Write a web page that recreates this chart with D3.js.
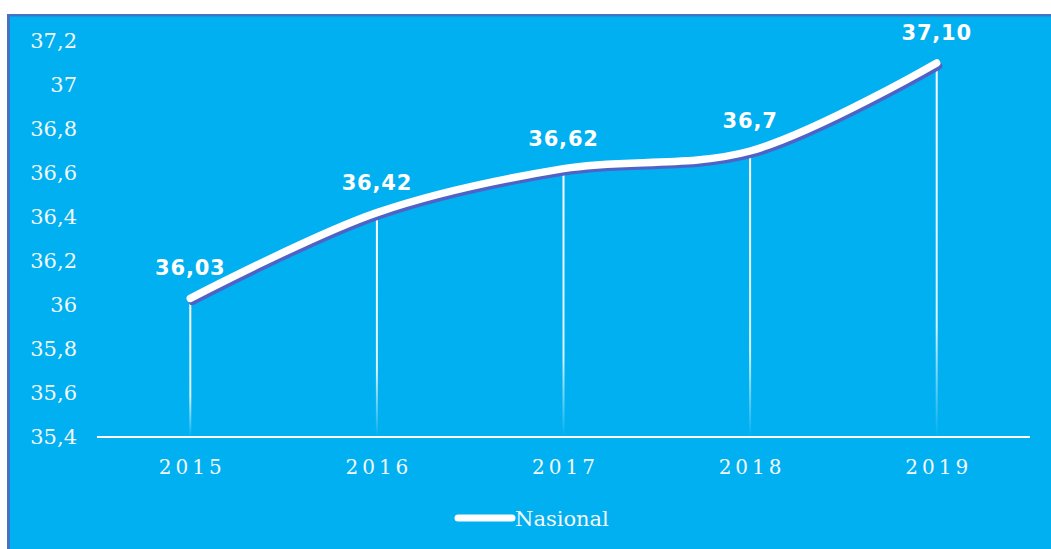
<!DOCTYPE html>
<html>
<head>
<meta charset="utf-8">
<script src="https://cdn.jsdelivr.net/npm/d3@7"></script>
<style>
  body { margin: 0; background: #fff; }
  .tick-y { font-family: "DejaVu Serif", serif; font-size: 21px; fill: #f2f8fc; }
  .tick-x { font-family: "DejaVu Serif", serif; font-size: 20px; fill: #f2f8fc; letter-spacing: 4px; }
  .val { font-family: "DejaVu Sans", sans-serif; font-weight: bold; font-size: 21px; fill: #fff; letter-spacing: 0.8px; }
  .legend { font-family: "DejaVu Serif", serif; font-size: 21px; fill: #f2f8fc; }
</style>
</head>
<body>
<div id="chart"></div>
<script>
const years = ["2015", "2016", "2017", "2018", "2019"];
const nasional = [36.03, 36.42, 36.62, 36.7, 37.10];
const valueLabels = ["36,03", "36,42", "36,62", "36,7", "37,10"];
const yTicks = [35.4, 35.6, 35.8, 36, 36.2, 36.4, 36.6, 36.8, 37, 37.2];

const width = 1051, height = 549;

const svg = d3.select("#chart").append("svg")
  .attr("width", width).attr("height", height);

// background panel
svg.append("rect").attr("x", 7).attr("y", 14).attr("width", width - 7).attr("height", height - 14)
  .attr("fill", "#00b0f0");
svg.append("rect").attr("x", 7).attr("y", 14).attr("width", width - 7).attr("height", 2.5)
  .attr("fill", "#4472c4");
svg.append("rect").attr("x", 7).attr("y", 14).attr("width", 3).attr("height", height - 14)
  .attr("fill", "#4472c4");

const x = d3.scaleBand().domain(years).range([97, 1030]);
const y = d3.scaleLinear().domain([35.4, 37.2]).range([437, 41]);
const cx = d => x(d) + x.bandwidth() / 2;

const defs = svg.append("defs");
const grad = defs.append("linearGradient").attr("id", "drop")
  .attr("x1", 0).attr("y1", 0).attr("x2", 0).attr("y2", 1);
grad.append("stop").attr("offset", "0%").attr("stop-color", "#fff").attr("stop-opacity", 1);
grad.append("stop").attr("offset", "70%").attr("stop-color", "#fff").attr("stop-opacity", 0.85);
grad.append("stop").attr("offset", "100%").attr("stop-color", "#fff").attr("stop-opacity", 0);

// y tick labels
svg.append("g").selectAll("text").data(yTicks).enter().append("text")
  .attr("class", "tick-y")
  .attr("x", 77).attr("y", d => y(d)).attr("dy", "0.35em")
  .attr("text-anchor", "end")
  .text(d => d3.format(".1f")(d).replace(/\.0$/, "").replace(".", ","));

// x axis
svg.append("line").attr("x1", 97).attr("x2", 1030).attr("y1", 437).attr("y2", 437)
  .attr("stroke", "#fff").attr("stroke-width", 2);
svg.append("g").selectAll("text").data(years).enter().append("text")
  .attr("class", "tick-x")
  .attr("x", d => cx(d) + 2).attr("y", 474)
  .attr("text-anchor", "middle")
  .text(d => d);

const pts = years.map((yr, i) => ({ year: yr, v: nasional[i], label: valueLabels[i] }));

// drop lines
svg.append("g").selectAll("rect").data(pts).enter().append("rect")
  .attr("x", d => cx(d.year) - 1)
  .attr("y", d => y(d.v))
  .attr("width", 2)
  .attr("height", d => 437 - y(d.v))
  .attr("fill", "url(#drop)");

const line = d3.line()
  .x(d => cx(d.year)).y(d => y(d.v))
  .curve(d3.curveCatmullRom.alpha(0.5));

// shadow
svg.append("path").datum(pts)
  .attr("d", line)
  .attr("transform", "translate(2,3)")
  .attr("fill", "none").attr("stroke", "#4f62c6").attr("stroke-width", 7.5)
  .attr("stroke-linecap", "round").attr("stroke-linejoin", "round");
svg.append("path").datum(pts)
  .attr("d", line)
  .attr("fill", "none").attr("stroke", "#fff").attr("stroke-width", 7.5)
  .attr("stroke-linecap", "round").attr("stroke-linejoin", "round");

// value labels
svg.append("g").selectAll("text").data(pts).enter().append("text")
  .attr("class", "val")
  .attr("x", d => cx(d.year))
  .attr("y", d => y(d.v) - 23)
  .attr("text-anchor", "middle")
  .text(d => d.label);

// legend
svg.append("line").attr("x1", 458).attr("x2", 512).attr("y1", 518).attr("y2", 518)
  .attr("stroke", "#fff").attr("stroke-width", 7).attr("stroke-linecap", "round");
svg.append("text").attr("class", "legend").attr("x", 515).attr("y", 526).text("Nasional");
</script>
</body>
</html>
